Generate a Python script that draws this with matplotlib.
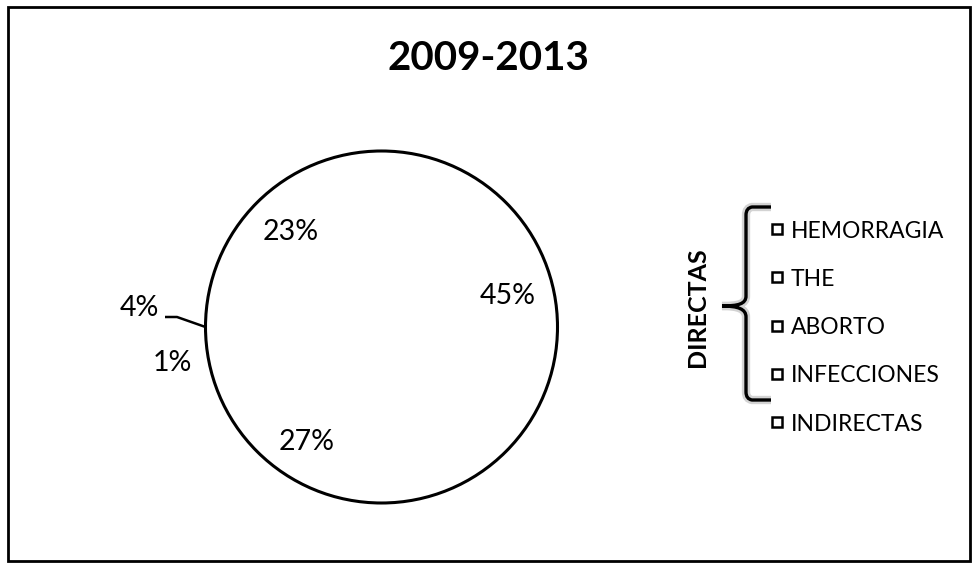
import numpy as np
import matplotlib
matplotlib.use("Agg")
import matplotlib.pyplot as plt
from matplotlib.path import Path
from matplotlib.patches import PathPatch, Circle, Rectangle

plt.rcParams['font.family'] = ['Lato', 'DejaVu Sans']

# causes of maternal death, 2009-2013
title = "2009-2013"
categories = ['HEMORRAGIA', 'THE', 'ABORTO', 'INFECCIONES', 'INDIRECTAS']
shares = [45, 27, 1, 4, 23]
group_label = "DIRECTAS"

W, H = 972, 563
fig = plt.figure(figsize=(W / 100, H / 100), dpi=100)
fig.patch.set_facecolor('white')

# overlay in pixel coordinates for frame, title, legend and brace
ax0 = fig.add_axes([0, 0, 1, 1])
ax0.set_xlim(0, W)
ax0.set_ylim(H, 0)
ax0.axis('off')

# pie axes: one data unit = pie radius = 176 px, centre at (381.5, 327)
R = 176.0
cx, cy = 381.5, 327.0
ax = fig.add_axes([0, 0, 1, 1])
wedges, _ = ax.pie(shares, startangle=90, counterclock=False, radius=1,
                   colors=['white'] * len(shares),
                   wedgeprops=dict(edgecolor='white', linewidth=0))
ax.set_xlim(-cx / R, (W - cx) / R)
ax.set_ylim(-(H - cy) / R, cy / R)
ax.set_aspect('auto')
ax.axis('off')
ax.add_patch(Circle((0, 0), 1, fill=False, edgecolor='black', linewidth=2.2))

# percentage labels: radial distance and small angular nudge per slice
label_r = [0.74, 0.77, 1.20, 1.38, 0.755]
label_nudge = [6, -3, 0, -5, 1.5]
for w, s, r, dn in zip(wedges, shares, label_r, label_nudge):
    mid = np.deg2rad((w.theta1 + w.theta2) / 2 + dn)
    ax.text(r * np.cos(mid), r * np.sin(mid), f"{s}%", fontsize=20.5,
            ha='center', va='center_baseline', color='black')

# leader line for the small INFECCIONES slice
w4 = wedges[3]
m4 = np.deg2rad((w4.theta1 + w4.theta2) / 2)
ax.plot([(165 - cx) / R, (177 - cx) / R, np.cos(m4)],
        [(cy - 317) / R, (cy - 317) / R, np.sin(m4)],
        color='black', linewidth=1.8, solid_capstyle='butt')

# outer frame
ax0.add_patch(Rectangle((8, 7), 962, 554, fill=False, edgecolor='black',
                        linewidth=2))

ax0.text(488.5, 70, title, fontsize=29, fontweight='bold', ha='center',
         va='baseline')

# legend
row0, step = 229, 48.3
for i, name in enumerate(categories):
    y = row0 + i * step
    ax0.plot(777, y, marker='s', markersize=7, markerfacecolor='white',
             markeredgecolor='black', markeredgewidth=1.8)
    ax0.text(791, y, name, fontsize=16.5, ha='left', va='center_baseline')

# brace grouping the direct causes
verts = [(771, 207), (752, 207), (746, 208), (746, 215),
         (746, 296),
         (746, 304), (738, 306), (722, 306),
         (738, 306), (746, 309), (746, 317),
         (746, 392),
         (746, 399), (752, 400), (771, 400)]
codes = [Path.MOVETO, Path.LINETO, Path.CURVE3, Path.CURVE3,
         Path.LINETO,
         Path.CURVE4, Path.CURVE4, Path.CURVE4,
         Path.CURVE4, Path.CURVE4, Path.CURVE4,
         Path.LINETO,
         Path.CURVE3, Path.CURVE3, Path.LINETO]
brace = Path(verts, codes)
ax0.add_patch(PathPatch(brace, fill=False, edgecolor='#c8c8c8', linewidth=6,
                        alpha=0.8))
ax0.add_patch(PathPatch(brace, fill=False, edgecolor='black', linewidth=2.4))

ax0.text(697, 307, group_label, fontsize=18, fontweight='bold', rotation=90,
         ha='center', va='center')

fig.savefig('out.png', dpi=100, facecolor='white')
